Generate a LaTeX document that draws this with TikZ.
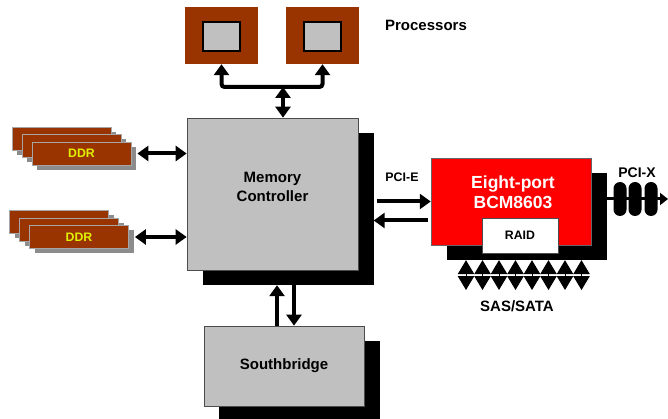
\documentclass[tikz,border=0pt]{standalone}
\usepackage{fontspec}
\setmainfont{Liberation Sans}
\usetikzlibrary{arrows.meta,calc,shadows}
\definecolor{brick}{HTML}{993300}
\definecolor{chipgray}{HTML}{C0C0C0}
\definecolor{ddrtext}{HTML}{E0F000}
\tikzset{
  chip/.style={fill=chipgray, draw=black!70, line width=.7pt, inner sep=0pt, font=\bfseries\fontsize{15}{19}\selectfont, align=center},
  shade/.style={fill=black, inner sep=0pt},
  cpu/.style={fill=brick, inner sep=0pt, minimum width=73pt, minimum height=57pt},
  die/.style={fill=chipgray, draw=black, line width=1.2pt, inner sep=0pt, minimum width=37pt, minimum height=29pt},
  ddr/.style={fill=brick, draw=black!35, line width=.8pt, inner sep=0pt, minimum width=99pt, minimum height=23pt,
    text=ddrtext, font=\bfseries\fontsize{12.3}{14}\selectfont,
    drop shadow={shadow xshift=5pt, shadow yshift=-5pt, fill=black!45, opacity=1}},
  lbl/.style={font=\bfseries\fontsize{15}{18}\selectfont, inner sep=0pt},
  fat/.style={line width=4pt},
  tip/.style={-{Triangle[width=15pt,length=11pt]}},
  both/.style={{Triangle[width=15pt,length=11pt]}-{Triangle[width=15pt,length=11pt]}},
  sas/.style={line width=1pt, {Triangle[width=16.5pt,length=14pt]}-{Triangle[width=16.5pt,length=14pt]}},
  pill/.style={fill=black, inner sep=0pt, minimum width=13pt, minimum height=34pt, rounded corners=6.5pt}
}
\begin{document}
\begin{tikzpicture}[x=1pt,y=-1pt]
\useasboundingbox (0,0) rectangle (668,419);

\foreach \n/\x in {pa/221.5,pb/322.5}{
  \node[cpu] (\n) at (\x,35.5) {};
  \node[die] (\n-die) at (\x,36.5) {};
}
\node[lbl] (proclbl) at (426,25) {Processors};

\node[shade, minimum width=171pt, minimum height=152pt] (mc-sh) at (288,209) {};
\node[chip, minimum width=171pt, minimum height=152pt] (mc) at (272.5,194) {Memory\\Controller\\[-5pt]};

\coordinate (bus) at (283,87);
\draw[fat, both, rounded corners=3pt] (pa.south) |- (bus) -| (pb.south);
\draw[fat, both] (bus) -- (bus |- mc.north);

\foreach \s/\x/\y in {a/81.5/153.5,b/79/237}{
  \node[ddr] (ddr\s-back) at (\x-20,\y-15) {};
  \node[ddr] (ddr\s-mid) at (\x-10,\y-7.5) {};
  \node[ddr] (ddr\s) at (\x,\y) {DDR};
  \draw[fat, both] ($(ddr\s.east)+(6,0)$) -- (ddr\s.east -| mc.west);
}

\node[shade, minimum width=161pt, minimum height=78pt] (sb-sh) at (299.5,380) {};
\node[chip, minimum width=160pt, minimum height=80pt] (sb) at (284,366) {Southbridge};
\coordinate (sbup) at ($(sb.north)+(-7,0)$);
\coordinate (sbdown) at ($(sb.north)+(10,0)$);
\draw[fat, tip] (sbup) -- (sbup |- mc-sh.south);
\draw[fat, tip] (sbdown |- mc-sh.south) -- (sbdown);

\node[shade, minimum width=160pt, minimum height=87pt] (bcm-sh) at (527,216.5) {};
\node[fill=red, draw=black!60, line width=.5pt, inner sep=0pt, minimum width=160pt, minimum height=87pt] (bcm) at (511,201.5) {};
\node[text=white, font=\bfseries\fontsize{17.5}{20}\selectfont, align=center] (bcm-txt) at (513,192) {Eight-port\\BCM8603};
\node[fill=white, draw=black!70, line width=.7pt, inner sep=0pt, minimum width=76pt, minimum height=35pt,
  font=\bfseries\fontsize{12.3}{14}\selectfont] (raid) at (520,235.5) {RAID};

\node[lbl, font=\bfseries\fontsize{12.4}{14}\selectfont] (pcie) at (402,177) {PCI-E};
\coordinate (pout) at ($(mc-sh.east |- bcm.west)+(3,0)$);
\coordinate (pin) at ($(bcm.west)+(-3,19)$);
\draw[fat, tip] (pout) -- (bcm.west);
\draw[fat, tip] (pin) -- (pin -| mc-sh.east);

\node[lbl, font=\bfseries\fontsize{14}{16}\selectfont] (pcix) at (637,173) {PCI-X};
\coordinate (pcix-end) at (668,199);
\draw[line width=3pt, -{Triangle[width=12pt,length=8pt]}] (bcm-sh.east |- pcix-end) -- (pcix-end);
\foreach \x in {620,635,651}
  \node[pill] (pill\x) at (\x,199) {};

\foreach \i in {0,...,7}
  \draw[sas] (466+16.5*\i,290) coordinate (sas\i) -- (sas\i |- bcm-sh.south);
\node[lbl] (saslbl) at (517,306) {SAS/SATA};
\end{tikzpicture}
\end{document}
